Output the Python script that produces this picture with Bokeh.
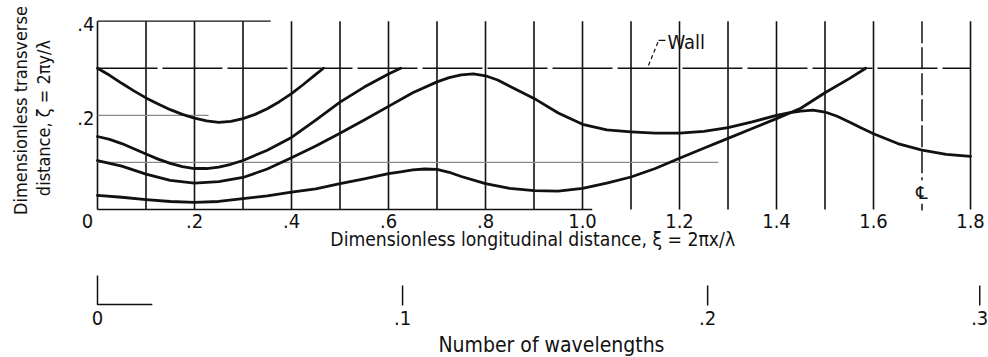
import math
from bokeh.plotting import figure
from bokeh.models import Range1d
from bokeh.core.properties import value
from bokeh.embed import file_html
from bokeh.resources import INLINE

# ---------------- data ----------------
# curves: dimensionless longitudinal distance xi vs transverse distance zeta
curve_a_x = [0.000, 0.025, 0.050, 0.075, 0.100, 0.125, 0.150, 0.175, 0.200, 0.225, 0.250, 0.275,
             0.300, 0.325, 0.350, 0.375, 0.400, 0.425, 0.450, 0.466]
curve_a_y = [0.300, 0.285, 0.268, 0.252, 0.237, 0.224, 0.212, 0.202, 0.194, 0.188, 0.185, 0.187,
             0.193, 0.202, 0.214, 0.229, 0.246, 0.266, 0.287, 0.300]

curve_b_x = [0.000, 0.025, 0.050, 0.075, 0.100, 0.125, 0.150, 0.175, 0.200, 0.225, 0.250, 0.275,
             0.300, 0.350, 0.400, 0.450, 0.500, 0.550, 0.600, 0.625]
curve_b_y = [0.155, 0.149, 0.140, 0.129, 0.118, 0.107, 0.098, 0.091, 0.087, 0.087, 0.090, 0.096,
             0.104, 0.126, 0.153, 0.190, 0.228, 0.260, 0.288, 0.300]

curve_c_x = [0.000, 0.050, 0.100, 0.150, 0.200, 0.250, 0.300, 0.350, 0.400, 0.450, 0.500, 0.550,
             0.600, 0.650, 0.700, 0.725, 0.750, 0.775, 0.800, 0.825, 0.850, 0.900, 0.950, 1.000,
             1.050, 1.100, 1.150, 1.200, 1.250, 1.300, 1.350, 1.400, 1.425, 1.450, 1.475, 1.500,
             1.525, 1.550, 1.575, 1.600, 1.650, 1.700, 1.750, 1.800]
curve_c_y = [0.104, 0.092, 0.075, 0.062, 0.056, 0.059, 0.068, 0.086, 0.110, 0.135, 0.162, 0.190,
             0.219, 0.248, 0.271, 0.280, 0.286, 0.288, 0.284, 0.275, 0.262, 0.236, 0.205, 0.181,
             0.169, 0.165, 0.162, 0.162, 0.166, 0.174, 0.186, 0.200, 0.205, 0.209, 0.211, 0.207,
             0.198, 0.186, 0.173, 0.161, 0.140, 0.126, 0.117, 0.113]

curve_d_x = [0.000, 0.050, 0.100, 0.150, 0.200, 0.250, 0.300, 0.350, 0.400, 0.450, 0.500, 0.550,
             0.600, 0.625, 0.650, 0.675, 0.700, 0.725, 0.750, 0.800, 0.850, 0.900, 0.950, 1.000,
             1.050, 1.100, 1.150, 1.200, 1.250, 1.300, 1.350, 1.400, 1.450, 1.500, 1.550, 1.584]
curve_d_y = [0.030, 0.026, 0.021, 0.017, 0.015, 0.017, 0.023, 0.029, 0.037, 0.044, 0.055, 0.065,
             0.076, 0.080, 0.084, 0.086, 0.085, 0.079, 0.070, 0.055, 0.045, 0.040, 0.039, 0.045,
             0.056, 0.069, 0.087, 0.109, 0.130, 0.151, 0.172, 0.193, 0.215, 0.248, 0.278, 0.300]

# axes / reference lines
xi_ticks = [0.0, 0.2, 0.4, 0.6, 0.8, 1.0, 1.2, 1.4, 1.6, 1.8]
xi_tick_labels = ["0", ".2", ".4", ".6", ".8", "1.0", "1.2", "1.4", "1.6", "1.8"]
grid_x = [0.1, 0.2, 0.3, 0.4, 0.5, 0.6, 0.7, 0.8, 0.9, 1.0, 1.1, 1.2, 1.3, 1.4, 1.5, 1.6, 1.8]
centerline_x = 1.7
zeta_ticks = [0.2, 0.4]
zeta_tick_labels = [".2", ".4"]
zeta_top = 0.4
wall_zeta = 0.3
wall_label_xi = 1.175
bottom_line_end = 1.02
top_line_end = 0.357
line_02_end = 0.229
line_01_end = 1.28

# secondary scale: number of wavelengths, positions on the xi scale as drawn
wl_tick_labels = [".1", ".2", ".3"]
wl_tick_xi = [0.629, 1.258, 1.819]
wl_zero_bar_end = 0.113

# ---------------- figure ----------------
FONT = value("DejaVu Sans Condensed")
p = figure(width=988, height=357, output_backend="svg", toolbar_location=None,
           x_range=Range1d(-0.2, 1.8371), y_range=Range1d(-0.3144, 0.4439),
           x_axis_location=None, y_axis_location=None, min_border=0,
           outline_line_color=None, background_fill_color="white",
           border_fill_color="white")
p.grid.visible = False

BLACK = "#111111"

# vertical grid lines
p.segment(x0=grid_x, y0=[0.0] * len(grid_x), x1=grid_x, y1=[zeta_top] * len(grid_x),
          line_color=BLACK, line_width=1.6)
# left axis line
p.segment(x0=[0.0], y0=[0.0], x1=[0.0], y1=[zeta_top], line_color=BLACK, line_width=1.6)
# bottom axis line (partial)
p.segment(x0=[0.0], y0=[0.0], x1=[bottom_line_end], y1=[0.0], line_color=BLACK, line_width=1.6)
# top short line at .4
p.segment(x0=[0.0], y0=[zeta_top], x1=[top_line_end], y1=[zeta_top], line_color=BLACK, line_width=1.3)
# grey reference lines at .2 and .1
p.segment(x0=[0.0, 0.0], y0=[0.2, 0.1], x1=[line_02_end, line_01_end], y1=[0.2, 0.1],
          line_color="#8a8a8a", line_width=1.2)
# wall line (long dashes)
p.line([0.0, 1.8], [wall_zeta, wall_zeta], line_color=BLACK, line_width=1.5, line_dash="60 5")
# centerline at xi = 1.7
p.line([centerline_x, centerline_x], [zeta_top, 0.062], line_color=BLACK, line_width=1.5, line_dash="22 4")
p.line([centerline_x, centerline_x], [0.012, -0.002], line_color=BLACK, line_width=1.5)
p.text(x=[centerline_x], y=[0.036], text=["\u2104"], text_font=value("DejaVu Sans"),
       text_font_size="18px", text_align="center", text_baseline="middle", text_color=BLACK)

# curves
for cx, cy in [(curve_a_x, curve_a_y), (curve_b_x, curve_b_y),
               (curve_c_x, curve_c_y), (curve_d_x, curve_d_y)]:
    p.line(cx, cy, line_color=BLACK, line_width=2.8, line_join="round", line_cap="round")

# wall label with leader
p.line([1.136, 1.157], [0.306, 0.359], line_color=BLACK, line_width=1.2, line_dash="4 3")
p.line([1.157, 1.171], [0.359, 0.359], line_color=BLACK, line_width=1.2)
p.text(x=[wall_label_xi], y=[0.3547], text=["Wall"], text_font=FONT, text_font_size="20px",
       text_align="left", text_baseline="middle", text_color=BLACK)

# xi tick labels
p.text(x=xi_ticks[1:], y=[-0.0255] * (len(xi_ticks) - 1), text=xi_tick_labels[1:], text_font=FONT,
       text_font_size="20px", text_align="center", text_baseline="middle", text_color=BLACK)
p.text(x=xi_ticks[:1], y=[-0.0255], text=xi_tick_labels[:1], text_font=FONT, x_offset=-10,
       text_font_size="20px", text_align="center", text_baseline="middle", text_color=BLACK)
# zeta tick labels
p.text(x=[0.0] * len(zeta_ticks), y=zeta_ticks, text=zeta_tick_labels, text_font=FONT,
       x_offset=-3, y_offset=3, text_font_size="20px", text_align="right",
       text_baseline="middle", text_color=BLACK)

# axis titles
p.text(x=[0.903], y=[-0.0637], text=["Dimensionless longitudinal distance,  \u03be = 2\u03c0x/\u03bb"],
       text_font=FONT, text_font_size="19.2px", text_align="center", text_baseline="middle",
       text_color=BLACK)
p.text(x=[-0.1588], y=[0.2103], text=["Dimensionless transverse"], angle=math.pi / 2,
       text_font=FONT, text_font_size="18px", text_align="center", text_baseline="middle",
       text_color=BLACK)
p.text(x=[-0.1113], y=[0.1997], text=["distance,  \u03b6 = 2\u03c0y/\u03bb"], angle=math.pi / 2,
       text_font=FONT, text_font_size="18px", text_align="center", text_baseline="middle",
       text_color=BLACK)

# secondary scale: number of wavelengths
p.line([0.0, 0.0, wl_zero_bar_end], [-0.1402, -0.2018, -0.2018], line_color=BLACK, line_width=1.5)
p.segment(x0=wl_tick_xi, y0=[-0.1614] * len(wl_tick_xi), x1=wl_tick_xi, y1=[-0.2039] * len(wl_tick_xi),
          line_color=BLACK, line_width=1.5)
p.text(x=[0.0] + wl_tick_xi, y=[-0.2315] * (len(wl_tick_xi) + 1), text=["0"] + wl_tick_labels,
       text_font=FONT, text_font_size="20px", text_align="center", text_baseline="middle",
       text_color=BLACK)
p.text(x=[0.936], y=[-0.2889], text=["Number of wavelengths"], text_font=FONT, text_font_size="21px",
       text_align="center", text_baseline="middle", text_color=BLACK)

open("out.html", "w").write(file_html(p, INLINE))
